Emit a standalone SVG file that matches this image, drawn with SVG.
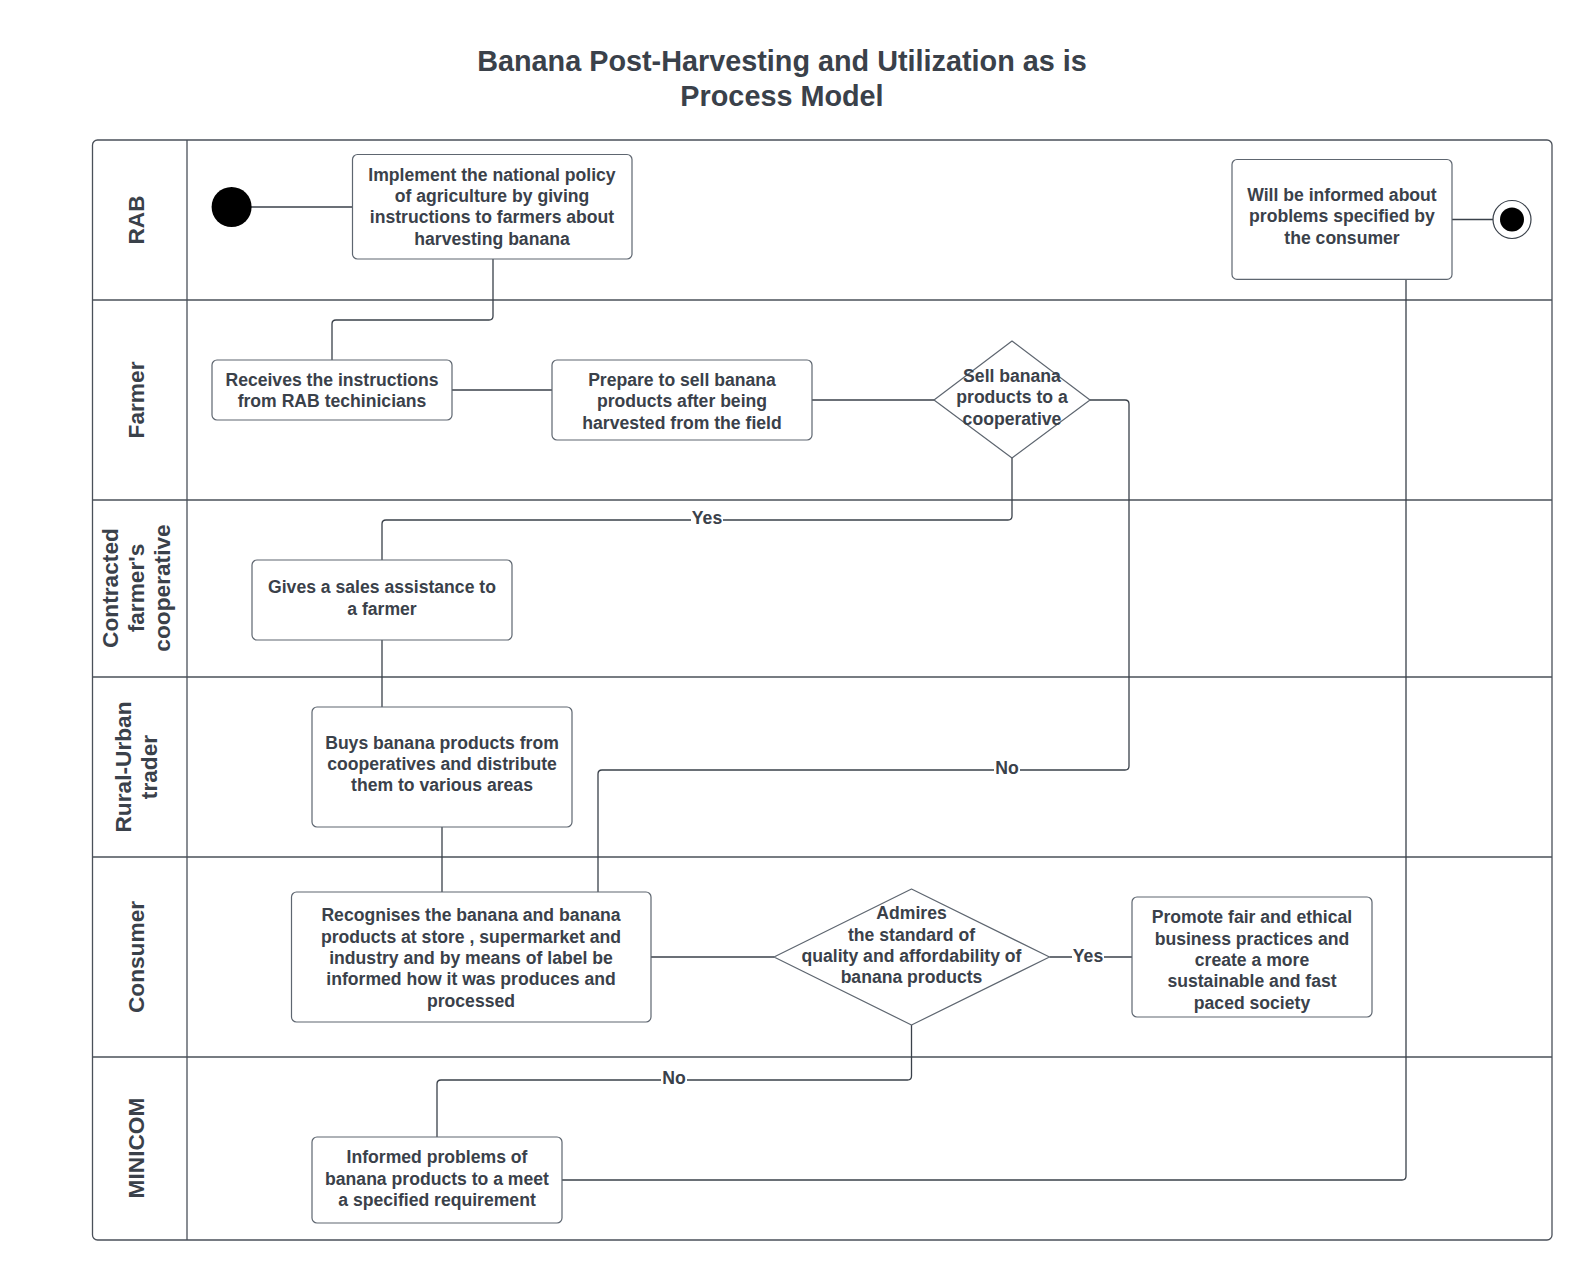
<svg xmlns="http://www.w3.org/2000/svg" width="1593" height="1280" viewBox="0 0 1593 1280">
<style>
.t{font-family:"Liberation Sans",Arial,sans-serif;font-weight:bold;fill:#3a414a;text-anchor:middle;dominant-baseline:central}
.n{font-size:17.6px}
.lane{font-size:22.7px}
.title{font-size:28.8px}
.box{fill:#fff;stroke:#5e6670;stroke-width:1.2}
.ln{fill:none;stroke:#3a414a;stroke-width:1.3}
.pool{fill:none;stroke:#4a5059;stroke-width:1.3}
.lbl{font-size:17.6px}
</style>
<rect width="1593" height="1280" fill="#fff"/>
<g id="title">
<text class="t title" x="782" y="61">Banana Post-Harvesting and Utilization as is</text>
<text class="t title" x="782" y="95.5">Process Model</text>
</g>
<g id="pool">
<rect class="pool" x="92.5" y="140" width="1459.5" height="1100" rx="5"/>
<line class="pool" x1="187" y1="140" x2="187" y2="1240"/>
<line class="pool" x1="92.5" y1="300" x2="1552" y2="300"/>
<line class="pool" x1="92.5" y1="500" x2="1552" y2="500"/>
<line class="pool" x1="92.5" y1="677" x2="1552" y2="677"/>
<line class="pool" x1="92.5" y1="857" x2="1552" y2="857"/>
<line class="pool" x1="92.5" y1="1057" x2="1552" y2="1057"/>
</g>
<g id="lane-labels">
<text class="t lane" transform="translate(136,220) rotate(-90)">RAB</text>
<text class="t lane" transform="translate(136,400) rotate(-90)">Farmer</text>
<text class="t lane" transform="translate(110,588) rotate(-90)">Contracted</text>
<text class="t lane" transform="translate(136,588) rotate(-90)">farmer's</text>
<text class="t lane" transform="translate(162,588) rotate(-90)">cooperative</text>
<text class="t lane" transform="translate(123,767) rotate(-90)">Rural-Urban</text>
<text class="t lane" transform="translate(149,767) rotate(-90)">trader</text>
<text class="t lane" transform="translate(136,957) rotate(-90)">Consumer</text>
<text class="t lane" transform="translate(136,1148) rotate(-90)">MINICOM</text>
</g>
<g id="connectors">
<line class="ln" x1="251" y1="207" x2="352.5" y2="207"/>
<path class="ln" d="M493 259 V316 Q493 320 489 320 H336 Q332 320 332 324 V360"/>
<line class="ln" x1="452" y1="390" x2="552" y2="390"/>
<line class="ln" x1="812" y1="400" x2="934" y2="400"/>
<path class="ln" d="M1012 458 V516 Q1012 520 1008 520 H386 Q382 520 382 524 V560"/>
<path class="ln" d="M1090 400 H1125 Q1129 400 1129 404 V766 Q1129 770 1125 770 H602 Q598 770 598 774 V892"/>
<line class="ln" x1="382" y1="640" x2="382" y2="707"/>
<line class="ln" x1="442" y1="827" x2="442" y2="892"/>
<line class="ln" x1="651" y1="957" x2="774" y2="957"/>
<line class="ln" x1="1049.5" y1="957" x2="1132" y2="957"/>
<path class="ln" d="M911.5 1025 V1076 Q911.5 1080 907.5 1080 H441 Q437 1080 437 1084 V1137"/>
<path class="ln" d="M562 1180 H1402 Q1406 1180 1406 1176 V279"/>
<line class="ln" x1="1452" y1="219.5" x2="1493" y2="219.5"/>
<rect x="691" y="509" width="32" height="18" fill="#fff"/>
<text class="t lbl" x="707" y="518">Yes</text>
<rect x="994" y="759" width="26" height="18" fill="#fff"/>
<text class="t lbl" x="1007" y="768">No</text>
<rect x="1072" y="947" width="32" height="18" fill="#fff"/>
<text class="t lbl" x="1088" y="956">Yes</text>
<rect x="661" y="1069" width="26" height="18" fill="#fff"/>
<text class="t lbl" x="674" y="1078">No</text>
</g>
<g id="start">
<circle cx="231.6" cy="207" r="20" fill="#000"/>
</g>
<g id="end">
<circle cx="1512" cy="219.5" r="19" fill="#fff" stroke="#3a414a" stroke-width="1.2"/>
<circle cx="1512" cy="219.5" r="12" fill="#000"/>
</g>
<g id="implement">
<rect class="box" x="352.5" y="154.5" width="279.5" height="104.5" rx="5"/>
<text class="t n" x="492" y="174.7">Implement the national policy</text>
<text class="t n" x="492" y="196">of agriculture by giving</text>
<text class="t n" x="492" y="217.4">instructions to farmers about</text>
<text class="t n" x="492" y="238.8">harvesting banana</text>
</g>
<g id="informed-rab">
<rect class="box" x="1232" y="159.5" width="220" height="119.9" rx="5"/>
<text class="t n" x="1342" y="195">Will be informed about</text>
<text class="t n" x="1342" y="216.4">problems specified by</text>
<text class="t n" x="1342" y="237.7">the consumer</text>
</g>
<g id="receives">
<rect class="box" x="212" y="360" width="240" height="60" rx="5"/>
<text class="t n" x="332" y="380">Receives the instructions</text>
<text class="t n" x="332" y="401.3">from RAB techinicians</text>
</g>
<g id="prepare">
<rect class="box" x="552" y="360" width="260" height="80" rx="5"/>
<text class="t n" x="682" y="380">Prepare to sell banana</text>
<text class="t n" x="682" y="401.3">products after being</text>
<text class="t n" x="682" y="422.6">harvested from the field</text>
</g>
<g id="sell-decision">
<path class="box" d="M1012 341 L1090 400 L1012 458 L934 400 Z" stroke-linejoin="round"/>
<text class="t n" x="1012" y="376">Sell banana</text>
<text class="t n" x="1012" y="397.2">products to a</text>
<text class="t n" x="1012" y="418.6">cooperative</text>
</g>
<g id="gives">
<rect class="box" x="252" y="560" width="260" height="80" rx="5"/>
<text class="t n" x="382" y="587.2">Gives a sales assistance to</text>
<text class="t n" x="382" y="608.6">a farmer</text>
</g>
<g id="buys">
<rect class="box" x="312" y="707" width="260" height="120" rx="5"/>
<text class="t n" x="442" y="742.7">Buys banana products from</text>
<text class="t n" x="442" y="764">cooperatives and distribute</text>
<text class="t n" x="442" y="785.3">them to various areas</text>
</g>
<g id="recognises">
<rect class="box" x="291.5" y="892" width="359.5" height="130" rx="5"/>
<text class="t n" x="471" y="915.4">Recognises the banana and banana</text>
<text class="t n" x="471" y="936.7">products at store , supermarket and</text>
<text class="t n" x="471" y="958">industry and by means of label be</text>
<text class="t n" x="471" y="979.4">informed how it was produces and</text>
<text class="t n" x="471" y="1000.7">processed</text>
</g>
<g id="admires-decision">
<path class="box" d="M911.5 889 L1049.5 957 L911.5 1025 L774 957 Z" stroke-linejoin="round"/>
<text class="t n" x="911.5" y="913.4">Admires</text>
<text class="t n" x="911.5" y="934.7">the standard  of</text>
<text class="t n" x="911.5" y="956">quality and affordability of</text>
<text class="t n" x="911.5" y="977.3">banana products</text>
</g>
<g id="promote">
<rect class="box" x="1132" y="897" width="240" height="120" rx="5"/>
<text class="t n" x="1252" y="917.4">Promote fair and ethical</text>
<text class="t n" x="1252" y="938.7">business practices and</text>
<text class="t n" x="1252" y="960">create a more</text>
<text class="t n" x="1252" y="981.4">sustainable and fast</text>
<text class="t n" x="1252" y="1002.7">paced society</text>
</g>
<g id="minicom-informed">
<rect class="box" x="312" y="1137" width="250" height="86" rx="5"/>
<text class="t n" x="437" y="1157">Informed problems of</text>
<text class="t n" x="437" y="1178.5">banana products to a meet</text>
<text class="t n" x="437" y="1199.9">a specified requirement</text>
</g>
</svg>
